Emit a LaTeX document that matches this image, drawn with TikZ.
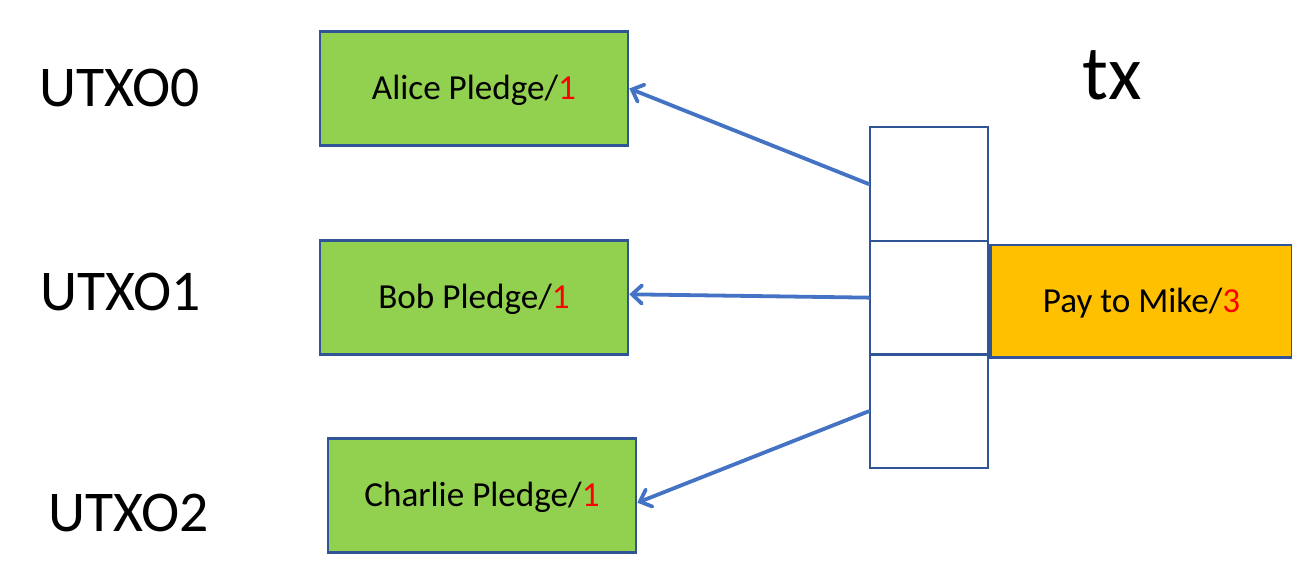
\documentclass[tikz,border=0pt]{standalone}
\usepackage{fontspec}
\setmainfont{Carlito}
\usepackage{tikz}
\usetikzlibrary{arrows.meta,positioning}
\definecolor{pledgegreen}{HTML}{92D050}
\definecolor{boxblue}{HTML}{2F5597}
\definecolor{arrowblue}{HTML}{4472C4}
\definecolor{payorange}{HTML}{FFC000}
\tikzset{cell/.style={draw=boxblue, line width=1.8pt, rectangle, inner sep=0pt, minimum width=2.95cm, minimum height=2.84cm}}
\tikzset{link/.style={->, draw=arrowblue, line width=2.7pt, line cap=round}}
\tikzstyle{pledge}=[cell, fill=pledgegreen, minimum width=7.7cm, minimum height=2.86cm, text depth=2pt, font=\fontsize{25}{30}\selectfont]
\tikzstyle{pay}=[cell, fill=payorange, minimum width=7.55cm, minimum height=2.8cm, text depth=2pt, font=\fontsize{25}{30}\selectfont]
\tikzstyle{utxo}=[anchor=base west, inner sep=0pt, font=\fontsize{41}{48}\selectfont]

\begin{document}
\begin{tikzpicture}[x=0.025cm, y=-0.025cm, >={Straight Barb[length=7pt, width=13pt, line cap=round]}, node distance=2.84cm]
\useasboundingbox (0,0) rectangle (1292,584);

\node[utxo] (U0) at (39,107) {UTXO0};
\node[utxo] (U1) at (40,310) {UTXO1};
\node[utxo] (U2) at (48,531) {UTXO2};
\node[anchor=base west, inner sep=0pt, font=\fontsize{55}{62}\selectfont] (TX) at (1082,100) {tx};

\node[pledge] (A0) at (474,88.5) {Alice Pledge/\textcolor{red}{1}};
\node[pledge] (B1) at (474,297.5) {Bob Pledge/\textcolor{red}{1}};
\node[pledge] (C2) at (482,495.5) {Charlie Pledge/\textcolor{red}{1}};

% inputs of tx
\node[cell] (T0) at (929,184) {};
\node[cell][below of =T0] (T1) {};
\node[cell][below of =T1] (T2) {};
\node[pay, right=0pt of T1, yshift=-0.09cm] (P) {Pay to Mike/\textcolor{red}{3}};

\draw[link] (T0.west) -- (A0.east);
\draw[link] (T1.west) -- ([yshift=0.08cm]B1.east);
\draw[link] (T2.west) -- ([yshift=-0.18cm]C2.east);
\end{tikzpicture}
\end{document}
